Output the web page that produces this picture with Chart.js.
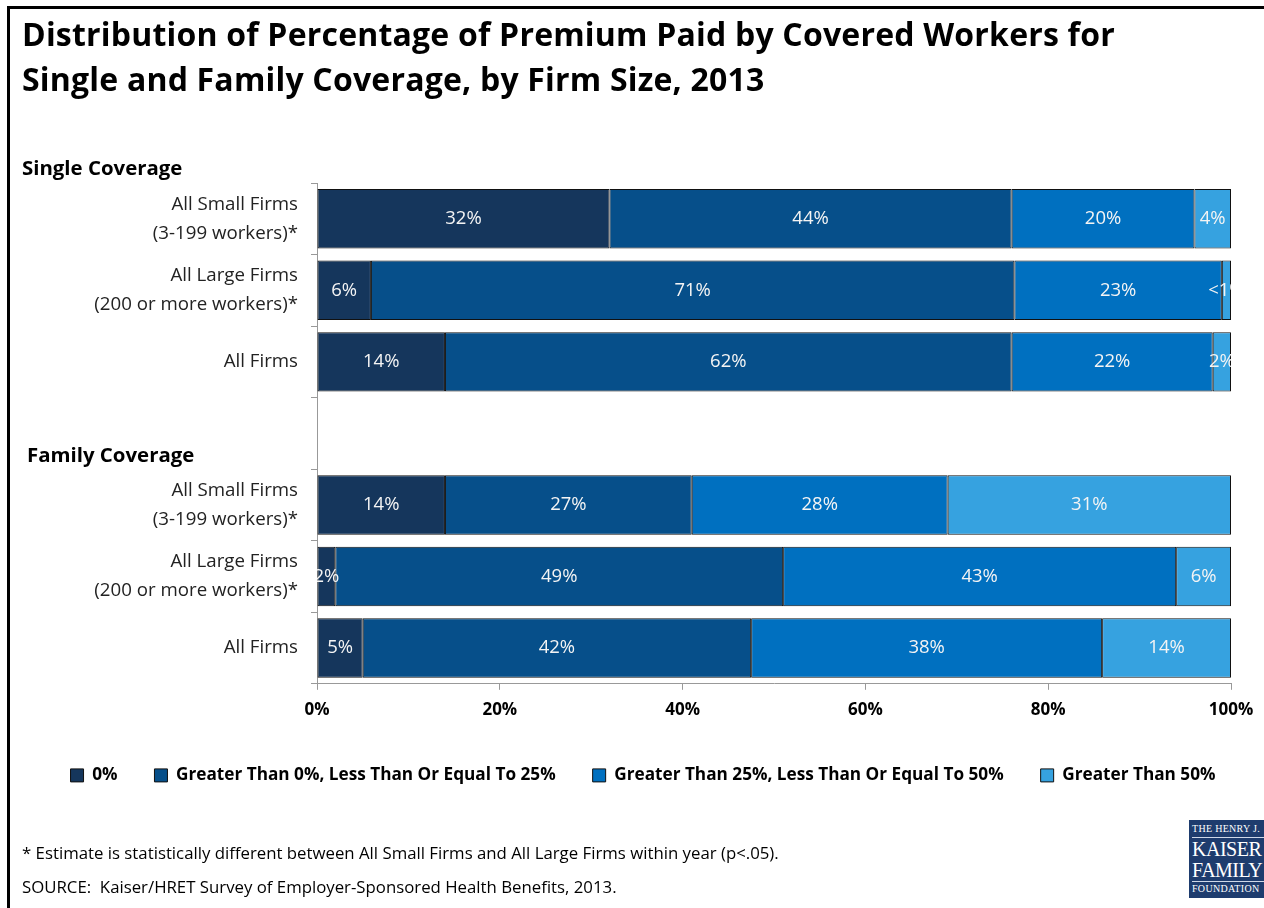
<!DOCTYPE html>
<html><head><meta charset="utf-8">
<script src="https://cdn.jsdelivr.net/npm/chart.js@4/dist/chart.umd.min.js"></script>
<style>
html,body{margin:0;padding:0;background:#fff;}
body{width:1264px;height:908px;position:relative;overflow:hidden;font-family:'Open Sans',Lato,sans-serif;color:#000;}
#frame{position:absolute;left:7px;top:6px;width:1400px;height:1000px;border-left:3px solid #000;border-top:3px solid #000;}
#c{position:absolute;left:0;top:0;}
#title{position:absolute;left:22px;top:11px;font-weight:bold;font-size:32px;line-height:45px;white-space:nowrap;letter-spacing:0.2px;}
.sec{position:absolute;font-weight:bold;font-size:20.4px;white-space:nowrap;}
.note{position:absolute;left:22px;font-size:16.8px;white-space:nowrap;color:#000;}
#logo{position:absolute;left:1189px;top:820px;width:90px;height:78px;background:#1E3C6E;color:#fff;font-family:'Liberation Serif','DejaVu Serif',serif;text-align:left;}
#logo div{position:absolute;left:3px;white-space:nowrap;}
#logo .ln{height:1px;background:#cfd8e8;width:80px;}
</style></head>
<body>
<div id="frame"></div>
<canvas id="c" width="1264" height="908"></canvas>
<div id="title">Distribution of Percentage of Premium Paid by Covered Workers for<br>Single and Family Coverage, by Firm Size, 2013</div>
<div class="sec" style="left:22px;top:153px;">Single Coverage</div>
<div class="sec" style="left:27px;top:440px;">Family Coverage</div>
<div class="note" style="top:841px;">* Estimate is statistically different between All Small Firms and All Large Firms within year (p&lt;.05).</div>
<div class="note" style="top:875px;">SOURCE:&nbsp; Kaiser/HRET Survey of Employer-Sponsored Health Benefits, 2013.</div>
<div id="logo">
  <div style="top:3px;font-size:10px;letter-spacing:0.3px;">THE HENRY J.</div>
  <div class="ln" style="top:17px;"></div>
  <div style="top:18px;font-size:20px;line-height:22px;letter-spacing:-0.5px;">KAISER</div>
  <div style="top:39px;font-size:20px;line-height:22px;letter-spacing:-0.5px;">FAMILY</div>
  <div class="ln" style="top:61px;"></div>
  <div style="top:63px;font-size:10px;letter-spacing:0.3px;">FOUNDATION</div>
</div>
<script>
const FONT = "'Open Sans', Lato, sans-serif";
const categories = [
  ['All Small Firms','(3-199 workers)*'],
  ['All Large Firms','(200 or more workers)*'],
  'All Firms',
  '',
  ['All Small Firms','(3-199 workers)*'],
  ['All Large Firms','(200 or more workers)*'],
  'All Firms'
];
const seriesNames = ['0%','Greater Than 0%, Less Than Or Equal To 25%','Greater Than 25%, Less Than Or Equal To 50%','Greater Than 50%'];
const zeroPct   = [32, 5.9, 14, null, 14, 2, 5.0];
const upTo25    = [44, 70.4, 62, null, 27, 49, 42.5];
const upTo50    = [20, 22.7, 22, null, 28, 43, 38.4];
const over50    = [4, 1.0, 2, null, 31, 6, 14.1];
const zeroLbl   = ['32%','6%','14%','','14%','2%','5%'];
const upTo25Lbl = ['44%','71%','62%','','27%','49%','42%'];
const upTo50Lbl = ['20%','23%','22%','','28%','43%','38%'];
const over50Lbl = ['4%','<1%','2%','','31%','6%','14%'];
const xTicks = [0,20,40,60,80,100];
const colors = ['#15365C','#064F8A','#0070C0','#36A2E0'];

const values = [zeroPct, upTo25, upTo50, over50];
const labels = [zeroLbl, upTo25Lbl, upTo50Lbl, over50Lbl];

const segLabels = {
  id:'segLabels',
  afterDatasetsDraw(chart){
    const ctx = chart.ctx, a = chart.chartArea;
    ctx.save();
    ctx.beginPath();
    ctx.rect(a.left, a.top, a.right - a.left, a.bottom - a.top);
    ctx.clip();
    ctx.font = '18.5px ' + FONT;
    ctx.fillStyle = '#f4f4f4';
    ctx.textAlign = 'center';
    ctx.textBaseline = 'middle';
    chart.data.datasets.forEach((ds, i) => {
      const meta = chart.getDatasetMeta(i);
      meta.data.forEach((bar, j) => {
        const t = labels[i][j];
        if (!t) return;
        ctx.fillText(t, (bar.x + bar.base) / 2, bar.y);
      });
    });
    ctx.restore();
  }
};

new Chart(document.getElementById('c'), {
  type: 'bar',
  data: {
    labels: categories,
    datasets: seriesNames.map((n, i) => ({
      label: n,
      data: values[i],
      backgroundColor: colors[i],
      borderColor: '#111',
      borderWidth: 1,
      borderSkipped: false,
      categoryPercentage: 1,
      barPercentage: 0.83
    }))
  },
  options: {
    responsive: false,
    animation: false,
    indexAxis: 'y',
    layout: { padding: { left: 22, right: 0, top: 183, bottom: 114 } },
    plugins: {
      legend: {
        position: 'bottom',
        labels: { font: { size: 17.2, weight: 'bold', family: FONT }, color: '#000', boxWidth: 13, boxHeight: 13, padding: 37 }
      },
      tooltip: { enabled: false }
    },
    scales: {
      x: {
        stacked: true, min: 0, max: 100,
        afterBuildTicks(s){ s.ticks = xTicks.map(v => ({value: v})); },
        ticks: { callback: v => v + '%', font: { size: 17, weight: 'bold', family: FONT }, color: '#000', padding: 10, maxRotation: 0 },
        grid: { drawOnChartArea: false, drawTicks: true, tickLength: 6, color: '#999' },
        border: { color: '#999' },
        afterFit(s){ s.height = 46; s.paddingRight = 33; }
      },
      y: {
        stacked: true,
        ticks: { font: { size: 18.7, family: FONT, lineHeight: 1.55 }, color: '#222', padding: 13 },
        grid: { drawOnChartArea: false, drawTicks: true, tickLength: 6, color: '#999', offset: true },
        border: { color: '#999' },
        afterFit(s){ s.width = 295; }
      }
    }
  },
  plugins: [segLabels]
});
</script>
</body></html>
